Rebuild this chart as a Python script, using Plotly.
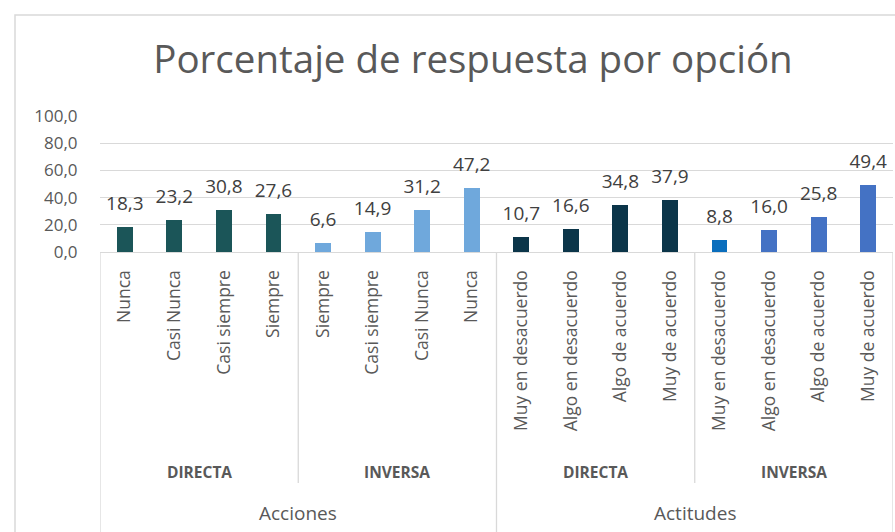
import plotly.graph_objects as go

labels = ["Nunca", "Casi Nunca", "Casi siempre", "Siempre",
          "Siempre", "Casi siempre", "Casi Nunca", "Nunca",
          "Muy en desacuerdo", "Algo en desacuerdo", "Algo de acuerdo", "Muy de acuerdo",
          "Muy en desacuerdo", "Algo en desacuerdo", "Algo de acuerdo", "Muy de acuerdo"]
values = [18.3, 23.2, 30.8, 27.6,
          6.6, 14.9, 31.2, 47.2,
          10.7, 16.6, 34.8, 37.9,
          8.8, 16.0, 25.8, 49.4]
groups = ["DIRECTA", "INVERSA", "DIRECTA", "INVERSA"]
sections = ["Acciones", "Actitudes"]
bar_colors = ["#1B5558"] * 4 + ["#6FA8DC"] * 4 + ["#0B3549"] * 4 + ["#0A6EBD", "#4472C4", "#4472C4", "#4472C4"]
y_ticks = [0, 20, 40, 60, 80, 100]

x = list(range(len(values)))
FONT = "Open Sans, Noto Sans, sans-serif"
GRID = "#D9D9D9"

fig = go.Figure()
fig.add_trace(go.Bar(x=x, y=values, width=0.32, marker=dict(color=bar_colors, line=dict(width=0)),
                     hoverinfo="skip"))
fig.add_trace(go.Scatter(x=x, y=values, mode="markers+text", text=[f"{v:.1f}".replace(".", ",") for v in values],
                         textposition="top center",
                         marker=dict(size=18, color="rgba(0,0,0,0)"),
                         textfont=dict(family=FONT, size=19, color="#404040"), hoverinfo="skip"))

# plot area pixel geometry: y0=252, y100=116
def py(pix):
    return (252 - pix) / 136.0

annotations = []
for gi, g in enumerate(groups):
    annotations.append(dict(x=gi * 4 + 1.5, y=py(472), xref="x", yref="paper", text=f"<b>{g}</b>",
                            showarrow=False, font=dict(family=FONT, size=15.5, color="#595959"),
                            xanchor="center", yanchor="middle"))
for si, s in enumerate(sections):
    annotations.append(dict(x=si * 8 + 3.5, y=py(513), xref="x", yref="paper", text=s,
                            showarrow=False, font=dict(family=FONT, size=19, color="#595959"),
                            xanchor="center", yanchor="middle"))

shapes = []
for b in [3.5, 11.5]:
    shapes.append(dict(type="line", xref="x", yref="paper", x0=b, x1=b, y0=0, y1=py(483),
                       line=dict(color=GRID, width=1.3)))
for b in [-0.5, 7.5, 15.5]:
    shapes.append(dict(type="line", xref="x", yref="paper", x0=b, x1=b, y0=0, y1=py(532),
                       line=dict(color=GRID, width=1.3)))
# outer chart border
shapes.append(dict(type="rect", xref="paper", yref="paper", x0=(15 - 100) / 793, x1=1.05,
                   y0=py(560), y1=py(15), line=dict(color=GRID, width=1.5), layer="below"))

fig.update_layout(
    width=895, height=532,
    margin=dict(l=100, r=2, t=116, b=280),
    paper_bgcolor="white", plot_bgcolor="white",
    separators=",.",
    showlegend=False,
    title=dict(text="Porcentaje de respuesta por opción", x=473 / 895, xanchor="center",
               y=1 - 60 / 532, yanchor="middle", xref="container", yref="container",
               font=dict(family=FONT, size=38.5, color="#595959")),
    xaxis=dict(range=[-0.5, 15.5], tickmode="array", tickvals=x, ticktext=labels, tickangle=-90,
               showline=True, linecolor=GRID, linewidth=1.3, showgrid=False, zeroline=False,
               ticks="outside", ticklen=10, tickcolor="rgba(0,0,0,0)",
               tickfont=dict(family=FONT, size=17.5, color="#595959")),
    yaxis=dict(range=[0, 100], tickmode="array", tickvals=y_ticks, tickformat=".1f",
               showgrid=True, gridcolor=GRID, gridwidth=1.3, zeroline=False, showline=False,
               ticks="outside", ticklen=18, tickcolor="rgba(0,0,0,0)",
               tickfont=dict(family=FONT, size=17, color="#595959")),
    annotations=annotations,
    shapes=shapes,
    bargap=0,
)

fig.write_html("out.html", config={"displayModeBar": False},
               post_script="document.body.style.margin='0';")
